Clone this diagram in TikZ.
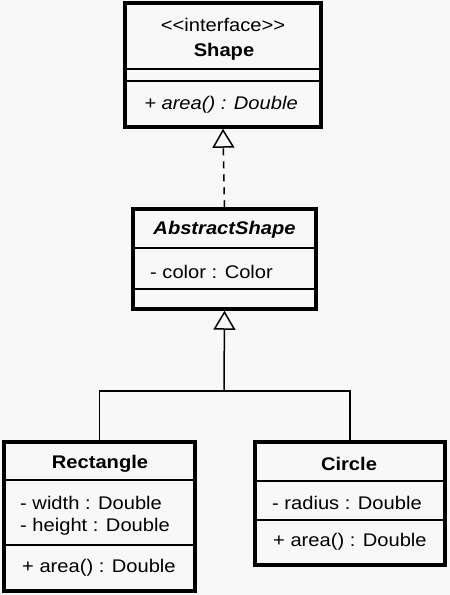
\documentclass[tikz,border=0pt]{standalone}
\usepackage{fontspec}
\setmainfont{Liberation Sans}[FakeStretch=1.1]
\usetikzlibrary{arrows.meta,calc}
\definecolor{bg}{RGB}{248,248,248}
\begin{document}
\begin{tikzpicture}[x=1pt,y=-1pt,
  box/.style={draw,line width=3.5pt,inner sep=0pt},
  sep/.style={line width=2pt},
  conn/.style={line width=1.5pt},
  txt/.style={inner sep=0pt,font=\fontsize{18.3}{21}\selectfont},
  lft/.style={txt,anchor=west},
  realize/.style={-{Triangle[open,length=19pt,width=22pt,line width=1.5pt,fill=bg]}},
  ]
\fill[bg] (0,0) rectangle (450,595);
\useasboundingbox (0,0) rectangle (450,595);
% Shape
\node[box,minimum width=196pt,minimum height=124pt] (shape) at (223,65) {};
\draw[sep] (shape.west |- 0,69) -- (shape.east |- 0,69);
\draw[sep] (shape.west |- 0,81) -- (shape.east |- 0,81);
\node[txt] (stereo) at (223,25) {{<}{<}interface{>}{>}};
\node[txt,font=\fontsize{18.3}{21}\selectfont\bfseries] (shapename) at (224,52) {Shape};
\node[txt,font=\fontsize{18.3}{21}\selectfont\itshape] (shapeop) at (221,105) {+ area() : Double};
% AbstractShape
\node[box,minimum width=183pt,minimum height=100pt] (abs) at (224.5,259) {};
\draw[sep] (abs.west |- 0,248) -- (abs.east |- 0,248);
\draw[sep] (abs.west |- 0,289) -- (abs.east |- 0,289);
\node[txt,font=\fontsize{18.3}{21}\selectfont\bfseries\itshape] (absname) at (224.5,230) {AbstractShape};
\node[lft] (absattr) at (150,272) {- color : Color};
% Rectangle
\node[box,minimum width=191pt,minimum height=149pt] (rect) at (99.5,516.5) {};
\draw[sep] (rect.west |- 0,480) -- (rect.east |- 0,480);
\draw[sep] (rect.west |- 0,545) -- (rect.east |- 0,545);
\node[txt,font=\fontsize{18.3}{21}\selectfont\bfseries] (rectname) at (100,464) {Rectangle};
\node[lft] (recta1) at (20,503) {- width : Double};
\node[lft] (recta2) at (20,527) {- height : Double};
\node[lft] (rectop) at (22,568) {+ area() : Double};
% Circle
\node[box,minimum width=190pt,minimum height=123pt] (circ) at (350,503.5) {};
\draw[sep] (circ.west |- 0,481) -- (circ.east |- 0,481);
\draw[sep] (circ.west |- 0,520) -- (circ.east |- 0,520);
\node[txt,font=\fontsize{18.3}{21}\selectfont\bfseries] (circname) at (349,464) {Circle};
\node[lft] (circa1) at (272,503) {- radius : Double};
\node[lft] (circop) at (273,542) {+ area() : Double};
% connectors
\draw[conn,realize,dash pattern=on 7pt off 6pt] (abs.north) -- (shape.south);
\coordinate (j) at (224,391);
\draw[conn,realize] (j) -- (abs.south);
\draw[conn] (rect.north) |- (j) -| (circ.north);
\end{tikzpicture}
\end{document}
